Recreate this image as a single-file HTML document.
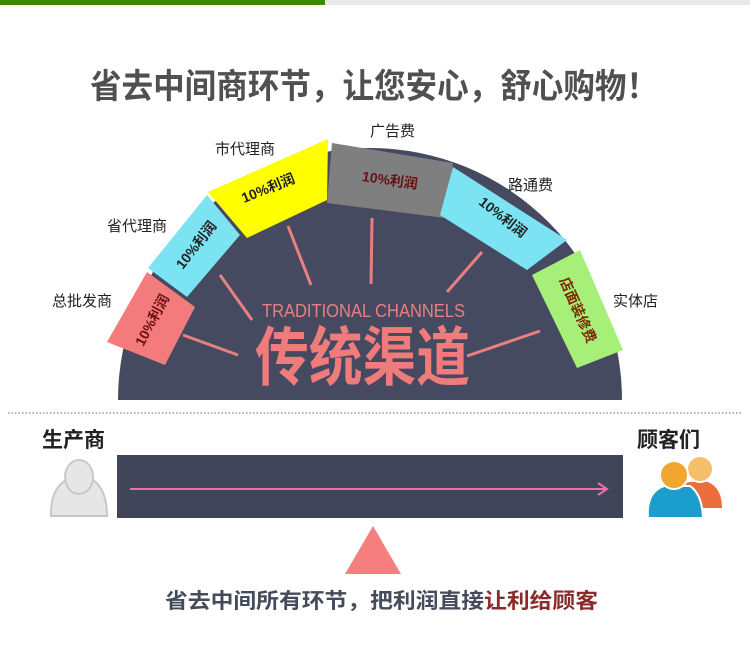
<!DOCTYPE html>
<html><head><meta charset="utf-8"><style>
html,body{margin:0;padding:0;background:#fff;}
svg{display:block;}
text{font-family:"Liberation Sans","Noto Sans CJK SC",sans-serif;}
</style></head><body>
<svg width="750" height="648" viewBox="0 0 750 648" xmlns="http://www.w3.org/2000/svg">
<rect x="0" y="0" width="325" height="5" fill="#3d8a00"/>
<rect x="325" y="0" width="425" height="5" fill="#e9e9e9"/>
<text x="90" y="98" font-size="34" font-weight="bold" fill="#505050" textLength="568" lengthAdjust="spacingAndGlyphs">省去中间商环节，让您安心，舒心购物！</text>

<path d="M118 400 A252 252 0 0 1 622 400 Z" fill="#464a61"/>
<g stroke="#e98080" stroke-width="3">
<line x1="183" y1="335" x2="238" y2="355"/>
<line x1="220" y1="275" x2="252" y2="320"/>
<line x1="288" y1="226" x2="311" y2="285"/>
<line x1="372" y1="218" x2="371" y2="284"/>
<line x1="482" y1="252" x2="447" y2="292"/>
<line x1="540" y1="331" x2="467" y2="356"/>
</g>
<text x="262" y="317" font-size="18" fill="#e98080" textLength="203" lengthAdjust="spacingAndGlyphs">TRADITIONAL CHANNELS</text>
<text x="255" y="380" font-size="64" font-weight="bold" fill="#f07b7b" textLength="215" lengthAdjust="spacingAndGlyphs">传统渠道</text>

<polygon points="107,342 147,272 195,307 165,365" fill="#f47b7b"/>
<polygon points="148,268 207,195 240,235 187,297" fill="#7ce3f2"/>
<polygon points="208,192 328,139 327,200 247,238" fill="#ffff00"/>
<polygon points="332,143 453,163 445,218 327,203" fill="#7f7f7f"/>
<polygon points="453,167 567,240 527,270 440,215" fill="#7ce3f2"/>
<polygon points="532,275 580,250 623,350 577,368" fill="#a6f07a"/>

<g font-size="14" font-weight="bold" text-anchor="middle">
<text transform="translate(152,320) rotate(-62)" fill="#6b1010" dy="5">10%利润</text>
<text transform="translate(196,245) rotate(-52)" fill="#222" dy="5">10%利润</text>
<text transform="translate(268,188) rotate(-22)" fill="#222" dy="5">10%利润</text>
<text transform="translate(390,180) rotate(8)" fill="#6b1010" dy="5">10%利润</text>
<text transform="translate(503,217) rotate(38)" fill="#222" dy="5">10%利润</text>
<text transform="translate(578,310) rotate(66)" fill="#7a2a00" dy="5">店面装修费</text>
</g>
<g font-size="15" fill="#222">
<text x="52" y="306">总批发商</text>
<text x="107" y="231">省代理商</text>
<text x="215" y="154">市代理商</text>
<text x="370" y="136">广告费</text>
<text x="508" y="190">路通费</text>
<text x="613" y="306">实体店</text>
</g>

<line x1="8" y1="413" x2="742" y2="413" stroke="#999" stroke-width="1.5" stroke-dasharray="1.5,2"/>
<text x="42" y="447" font-size="21" font-weight="bold" fill="#222">生产商</text>
<text x="637" y="447" font-size="21" font-weight="bold" fill="#222">顾客们</text>
<rect x="117" y="455" width="506" height="63" fill="#40455a"/>
<line x1="130" y1="489" x2="607" y2="489" stroke="#f06fa5" stroke-width="2"/>
<polyline points="598,483 607,489 598,495" fill="none" stroke="#f06fa5" stroke-width="2"/>

<g fill="#e6e6e6" stroke="#c8c8c8" stroke-width="2">
<path d="M51 516 Q50 490 66 480 L93 480 Q107 490 107 516 Z"/>
<ellipse cx="79" cy="477" rx="14" ry="17"/>
</g>
<path d="M668 508 Q668 486 690 482 L708 482 Q722 488 722 508 Z" fill="#ee6e3b"/>
<circle cx="700" cy="469" r="13" fill="#f4c06a" stroke="#fff" stroke-width="2"/>
<path d="M648 518 Q646 492 664 486 L690 486 Q702 494 703 518 Z" fill="#1b9ecb" stroke="#fff" stroke-width="2"/>
<circle cx="674" cy="475" r="14" fill="#f1a72e" stroke="#fff" stroke-width="2"/>

<polygon points="373,526 345,574 401,574" fill="#f57f7f"/>
<text x="165" y="608" font-size="21" font-weight="bold" fill="#444b5a" textLength="433" lengthAdjust="spacingAndGlyphs">省去中间所有环节，把利润直接<tspan fill="#8b2a2a">让利给顾客</tspan></text>
</svg>
</body></html>
